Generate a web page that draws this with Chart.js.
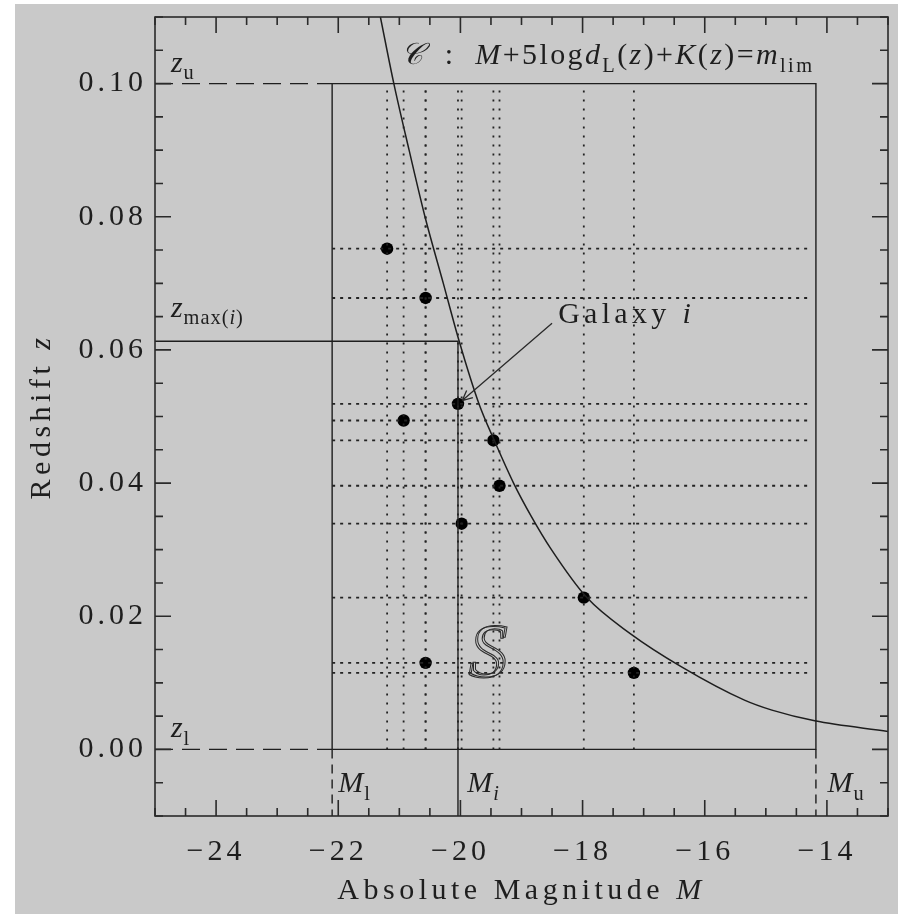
<!DOCTYPE html>
<html>
<head>
<meta charset="utf-8">
<script src="https://cdn.jsdelivr.net/npm/chart.js@4.4.0/dist/chart.umd.min.js"></script>
<style>
  html, body { margin: 0; padding: 0; background: #fff; }
</style>
</head>
<body>
<canvas id="chart" width="899" height="914"></canvas>
<script>
// galaxies in the sample (absolute magnitude, redshift)
const galaxyM = [-21.20, -20.57, -20.04, -20.93, -19.46, -19.36, -19.98, -17.98, -20.57, -17.16];
const galaxyZ = [0.0752, 0.0678, 0.0519, 0.0494, 0.0464, 0.0396, 0.0339, 0.0228, 0.0130, 0.0115];

// limiting curve C : M + 5 log dL(z) + K(z) = m_lim
const curveM = [-21.31, -21.09, -20.84, -20.58, -20.28, -20.02, -19.70, -19.45, -19.13, -18.84, -18.51, -17.93, -17.22, -16.38, -15.35, -14.90, -14.20, -13.00];
const curveZ = [0.110, 0.100, 0.090, 0.080, 0.070, 0.0613, 0.052, 0.0465, 0.040, 0.035, 0.030, 0.0228, 0.0174, 0.0124, 0.0074, 0.0059, 0.0043, 0.0027];

// survey box S
const limitM = [-22.10, -14.18];   // M_l, M_u
const limitZ = [0.00, 0.10];       // z_l, z_u
const dottedEndM = -14.25;
const dottedEndZ = 0.0995;

// galaxy i and its z_max
const galaxyI = 2;
const zMaxI = 0.0613;
const arrowFrom = [-18.50, 0.0640];
const arrowTo = [-19.97, 0.0524];

const xTicks = [-24, -22, -20, -18, -16, -14];
const yTicks = [0.00, 0.02, 0.04, 0.06, 0.08, 0.10];
const xRange = [-25, -13];
const yRange = [-0.01, 0.11];

const ink = '#1e1e1e';
const font = '"Liberation Serif"';

const pts = (ms, zs) => ms.map((m, k) => ({x: m, y: zs[k]}));
const line = (data, extra) => Object.assign({
  data: data, showLine: true, borderColor: ink, borderWidth: 1.4,
  pointRadius: 0, tension: 0, fill: false
}, extra || {});

const datasets = [];

// dotted lines through every galaxy
galaxyM.forEach((m, k) => {
  datasets.push(line(pts([m, m], [limitZ[0], dottedEndZ]), {borderDash: [2, 7], borderWidth: 1.8, borderColor: '#222'}));
  datasets.push(line(pts([limitM[0], dottedEndM], [galaxyZ[k], galaxyZ[k]]), {borderDash: [3, 5], borderWidth: 1.8, borderColor: '#222'}));
});

// box S
datasets.push(line(pts([limitM[0], limitM[0], limitM[1], limitM[1], limitM[0]],
                       [limitZ[0], limitZ[1], limitZ[1], limitZ[0], limitZ[0]])));
// dashed limits outside the box
datasets.push(line(pts([xRange[0], limitM[0]], [limitZ[1], limitZ[1]]), {borderDash: [18, 9]}));
datasets.push(line(pts([xRange[0], limitM[0]], [limitZ[0], limitZ[0]]), {borderDash: [18, 9]}));
datasets.push(line(pts([limitM[0], limitM[0]], [limitZ[0], yRange[0]]), {borderDash: [9, 6]}));
datasets.push(line(pts([limitM[1], limitM[1]], [limitZ[0], yRange[0]]), {borderDash: [9, 6]}));
// z_max(i) and M_i
datasets.push(line(pts([xRange[0], galaxyM[galaxyI], galaxyM[galaxyI]], [zMaxI, zMaxI, yRange[0]])));
// curve C
datasets.push(line(pts(curveM, curveZ), {cubicInterpolationMode: 'monotone', borderWidth: 1.5}));
// galaxies
datasets.push({data: pts(galaxyM, galaxyZ), showLine: false, pointRadius: 6.2,
  pointBackgroundColor: '#000', pointBorderColor: '#000', pointBorderWidth: 0});

function rich(ctx, parts, x, y, size, align) {
  let w = 0;
  const fontOf = (st) => (st.includes('i') ? 'italic ' : '') + (st.includes('s') ? size * 0.68 : size) + 'px ' + font;
  parts.forEach(([t, st]) => { ctx.font = fontOf(st); w += ctx.measureText(t).width; });
  if (align === 'center') x -= w / 2;
  parts.forEach(([t, st]) => {
    ctx.font = fontOf(st);
    ctx.fillText(t, x, y + (st.includes('s') ? size * 0.26 : 0));
    x += ctx.measureText(t).width;
  });
}

const frame = {
  id: 'frame',
  beforeLayout(chart) { chart.ctx.letterSpacing = '4px'; },
  beforeDraw(chart) {
    const ctx = chart.ctx;
    ctx.save();
    ctx.fillStyle = '#ffffff';
    ctx.fillRect(0, 0, chart.width, chart.height);
    ctx.fillStyle = '#c9c9c9';
    ctx.fillRect(15, 4, 883, 910);
    ctx.restore();
    ctx.letterSpacing = '4px';
  },
  afterDatasetsDraw(chart) {
    const ctx = chart.ctx, a = chart.chartArea;
    const sx = chart.scales.x, sy = chart.scales.y;
    ctx.save();
    ctx.strokeStyle = '#2a2a2a';
    ctx.lineWidth = 1.6;
    ctx.strokeRect(a.left, a.top, a.right - a.left, a.bottom - a.top);
    ctx.beginPath();
    for (let v = xRange[0]; v <= xRange[1] + 1e-9; v += 0.5) {
      const px = sx.getPixelForValue(v);
      const len = xTicks.includes(v) ? 16 : 8;
      ctx.moveTo(px, a.bottom); ctx.lineTo(px, a.bottom - len);
      ctx.moveTo(px, a.top); ctx.lineTo(px, a.top + len);
    }
    for (let k = -2; k <= 22; k++) {
      const v = k * 0.005;
      const py = sy.getPixelForValue(v);
      const len = k % 4 === 0 ? 16 : 8;
      ctx.moveTo(a.left, py); ctx.lineTo(a.left + len, py);
      ctx.moveTo(a.right, py); ctx.lineTo(a.right - len, py);
    }
    ctx.stroke();

    // arrow to galaxy i
    const x0 = sx.getPixelForValue(arrowFrom[0]), y0 = sy.getPixelForValue(arrowFrom[1]);
    const x1 = sx.getPixelForValue(arrowTo[0]), y1 = sy.getPixelForValue(arrowTo[1]);
    const ang = Math.atan2(y1 - y0, x1 - x0);
    ctx.lineWidth = 1.3;
    ctx.beginPath();
    ctx.moveTo(x0, y0); ctx.lineTo(x1, y1);
    [-0.45, 0.45].forEach(d => {
      ctx.moveTo(x1, y1);
      ctx.lineTo(x1 - 11 * Math.cos(ang + d), y1 - 11 * Math.sin(ang + d));
    });
    ctx.stroke();

    // labels
    ctx.fillStyle = ink;
    ctx.textAlign = 'left';
    ctx.textBaseline = 'alphabetic';
    ctx.letterSpacing = '1px';
    const P = (m, z) => [sx.getPixelForValue(m), sy.getPixelForValue(z)];
    let p;
    p = P(-24.74, 0.1018); rich(ctx, [['z', 'i'], ['u', 's']], p[0], p[1], 30);
    p = P(-24.74, 0.0650); rich(ctx, [['z', 'i'], ['max(', 's'], ['i', 'is'], [')', 's']], p[0], p[1], 30);
    p = P(-24.74, 0.0019); rich(ctx, [['z', 'i'], ['l', 's']], p[0], p[1], 30);
    p = P(-22.00, -0.0064); rich(ctx, [['M', 'i'], ['l', 's']], p[0], p[1], 30);
    p = P(-19.89, -0.0064); rich(ctx, [['M', 'i'], ['i', 'is']], p[0], p[1], 30);
    p = P(-13.99, -0.0064); rich(ctx, [['M', 'i'], ['u', 's']], p[0], p[1], 30);
    ctx.letterSpacing = '2.4px';
    p = P(-20.98, 0.1029);
    rich(ctx, [['𝒞', 'i'], ['  :  ', ''], ['M', 'i'], ['+5log', ''], ['d', 'i'], ['L', 's'], ['(', ''], ['z', 'i'], [')+', ''],
               ['K', 'i'], ['(', ''], ['z', 'i'], [')=', ''], ['m', 'i'], ['lim', 's']], p[0], p[1], 30);
    ctx.letterSpacing = '4.3px';
    p = P(-18.40, 0.0640); rich(ctx, [['Galaxy ', ''], ['i', 'i']], p[0], p[1], 30);

    // big outlined S
    p = P(-19.56, 0.0139);
    ctx.letterSpacing = '0px';
    ctx.font = 'italic 76px ' + font;
    ctx.textAlign = 'center';
    ctx.textBaseline = 'middle';
    ctx.lineWidth = 1;
    ctx.strokeText('S', p[0], p[1]);
    ctx.strokeText('S', p[0] + 2, p[1] - 1);

    // axis titles
    ctx.textAlign = 'left';
    ctx.textBaseline = 'alphabetic';
    ctx.letterSpacing = '4.5px';
    rich(ctx, [['Absolute Magnitude ', ''], ['M', 'i']], (a.left + a.right) / 2, 899, 30, 'center');
    ctx.translate(50, (a.top + a.bottom) / 2);
    ctx.rotate(-Math.PI / 2);
    rich(ctx, [['Redshift ', ''], ['z', 'i']], 0, 0, 30, 'center');
    ctx.restore();
  }
};

new Chart(document.querySelector('#chart').getContext('2d'), {
  type: 'scatter',
  data: {datasets: datasets},
  options: {
    responsive: false,
    animation: false,
    layout: {padding: {left: 0, top: 17, right: 11, bottom: 0}},
    plugins: {legend: {display: false}, tooltip: {enabled: false}},
    scales: {
      x: {
        type: 'linear', min: xRange[0], max: xRange[1],
        grid: {display: false, drawTicks: false}, border: {display: false},
        afterBuildTicks: s => { s.ticks = xTicks.map(v => ({value: v})); },
        afterFit: s => { s.height = 98; s.paddingLeft = 0; s.paddingRight = 0; },
        ticks: {color: ink, padding: 18, maxRotation: 0, font: {family: 'Liberation Serif', size: 30},
          callback: v => '\u2212' + Math.abs(v)}
      },
      y: {
        type: 'linear', min: yRange[0], max: yRange[1],
        grid: {display: false, drawTicks: false}, border: {display: false},
        afterBuildTicks: s => { s.ticks = yTicks.map(v => ({value: v})); },
        afterFit: s => { s.width = 155; s.paddingTop = 0; s.paddingBottom = 0; },
        ticks: {color: ink, padding: 8, font: {family: 'Liberation Serif', size: 30},
          callback: v => v.toFixed(2)}
      }
    }
  },
  plugins: [frame]
});
</script>
</body>
</html>
